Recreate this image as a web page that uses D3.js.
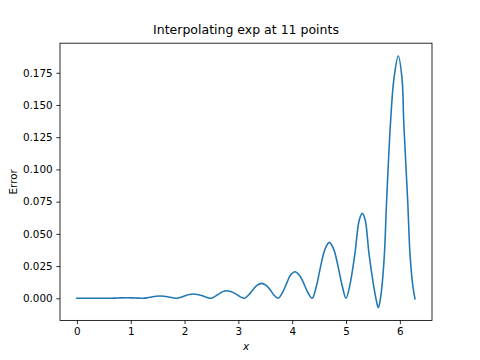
<!DOCTYPE html>
<html>
<head>
<meta charset="utf-8">
<script src="https://cdn.jsdelivr.net/npm/d3@7"></script>
<style>
  html, body { margin: 0; padding: 0; background: #fff; }
  svg { display: block; font-family: "DejaVu Sans", sans-serif; }
</style>
</head>
<body>
<svg id="chart" width="480" height="360"></svg>
<script>
// ---- data ----
const titleText = "Interpolating exp at 11 points";
const xLabel = "x";
const yLabel = "Error";
const xTicks = [0, 1, 2, 3, 4, 5, 6];
const yTicks = [0.000, 0.025, 0.050, 0.075, 0.100, 0.125, 0.150, 0.175];

const xs = [
  0.00, 0.15, 0.30, 0.45, 0.60, 0.76, 0.92, 1.08, 1.23,
  1.31, 1.39, 1.47, 1.544, 1.62, 1.70, 1.78, 1.854,
  1.93, 2.01, 2.09, 2.162, 2.24, 2.33, 2.41, 2.49,
  2.56, 2.64, 2.71, 2.783, 2.86, 2.95, 3.03, 3.11,
  3.19, 3.27, 3.35, 3.433, 3.51, 3.59, 3.66, 3.74,
  3.82, 3.90, 3.97, 4.052, 4.13, 4.21, 4.29, 4.37,
  4.45, 4.53, 4.61, 4.689, 4.77, 4.85, 4.93, 5.00,
  5.075, 5.166, 5.245, 5.302, 5.355, 5.426, 5.506, 5.555,
  5.599, 5.64, 5.673, 5.714, 5.755, 5.829, 5.891, 5.971,
  6.040, 6.073, 6.145, 6.188, 6.24, 6.281
];
const errors = [
  0, 0.00005, 0.0001, 0.00005, 0, 0.00028, 0.0005, 0.00028, 0,
  0.0004, 0.00104, 0.00158, 0.0018, 0.00158, 0.00104, 0.0004, 0,
  0.00073, 0.0019, 0.0029, 0.0033, 0.0029, 0.0019, 0.00073, 0,
  0.0013, 0.0034, 0.0052, 0.0059, 0.0052, 0.0034, 0.0013, 0,
  0.0026, 0.0067, 0.0102, 0.0116, 0.0102, 0.0067, 0.0026, 0,
  0.0045, 0.0120, 0.0181, 0.0206, 0.0181, 0.0120, 0.0045, 0,
  0.0095, 0.0252, 0.0382, 0.0434, 0.0382, 0.0252, 0.0095, 0,
  0.0110, 0.0349, 0.0605, 0.0659, 0.0610, 0.0349, 0.0116, 0,
  -0.0073, 0, 0.0116, 0.0349, 0.0763, 0.1380, 0.1707, 0.1880,
  0.1707, 0.1360, 0.0763, 0.0349, 0.0100, -0.0005
];

// ---- layout ----
const W = 480, H = 360;
const m = { left: 60, right: 432, top: 43.2, bottom: 320.4 };
const svg = d3.select("#chart");

const x = d3.scaleLinear().domain([-0.31416, 6.59734]).range([m.left, m.right]);
const y = d3.scaleLinear().domain([-0.01714, 0.19793]).range([m.bottom, m.top]);

const fs = 10.4;

// curve
const pts = xs.map((d, i) => [d, errors[i]]);
svg.append("path")
  .datum(pts)
  .attr("fill", "none")
  .attr("stroke", "#1f77b4")
  .attr("stroke-width", 1.56)
  .attr("stroke-linejoin", "round")
  .attr("stroke-linecap", "square")
  .attr("d", d3.line().x(d => x(d[0])).y(d => y(d[1])).curve(d3.curveCatmullRom.alpha(0.5)));

// axes
const xAxis = d3.axisBottom(x).tickValues(xTicks).tickFormat(d3.format("d")).tickSizeInner(3.65).tickSizeOuter(0).tickPadding(3.65);
const yAxis = d3.axisLeft(y).tickValues(yTicks).tickFormat(d3.format(".3f")).tickSizeInner(3.65).tickSizeOuter(0).tickPadding(3.65);

const gx = svg.append("g").attr("transform", `translate(0,${m.bottom})`).call(xAxis);
const gy = svg.append("g").attr("transform", `translate(${m.left},0)`).call(yAxis);
[gx, gy].forEach(g => {
  g.select(".domain").remove();
  g.selectAll(".tick line").attr("stroke", "#000").attr("stroke-width", 0.83);
  g.selectAll(".tick text").attr("fill", "#000").attr("font-size", fs).attr("font-family", "DejaVu Sans");
});

// frame
svg.append("rect")
  .attr("x", m.left).attr("y", m.top)
  .attr("width", m.right - m.left).attr("height", m.bottom - m.top)
  .attr("fill", "none").attr("stroke", "#000").attr("stroke-width", 0.83);

// title
svg.append("text")
  .attr("x", (m.left + m.right) / 2).attr("y", 34)
  .attr("text-anchor", "middle")
  .attr("font-size", 12.5)
  .attr("fill", "#000")
  .text(titleText);

// x label
svg.append("text")
  .attr("x", (m.left + m.right) / 2).attr("y", 350)
  .attr("text-anchor", "middle")
  .attr("font-size", fs)
  .attr("font-style", "italic")
  .attr("fill", "#000")
  .text(xLabel);

// y label
svg.append("text")
  .attr("transform", `translate(16.5,${(m.top + m.bottom) / 2}) rotate(-90)`)
  .attr("text-anchor", "middle")
  .attr("font-size", fs)
  .attr("fill", "#000")
  .text(yLabel);
</script>
</body>
</html>
